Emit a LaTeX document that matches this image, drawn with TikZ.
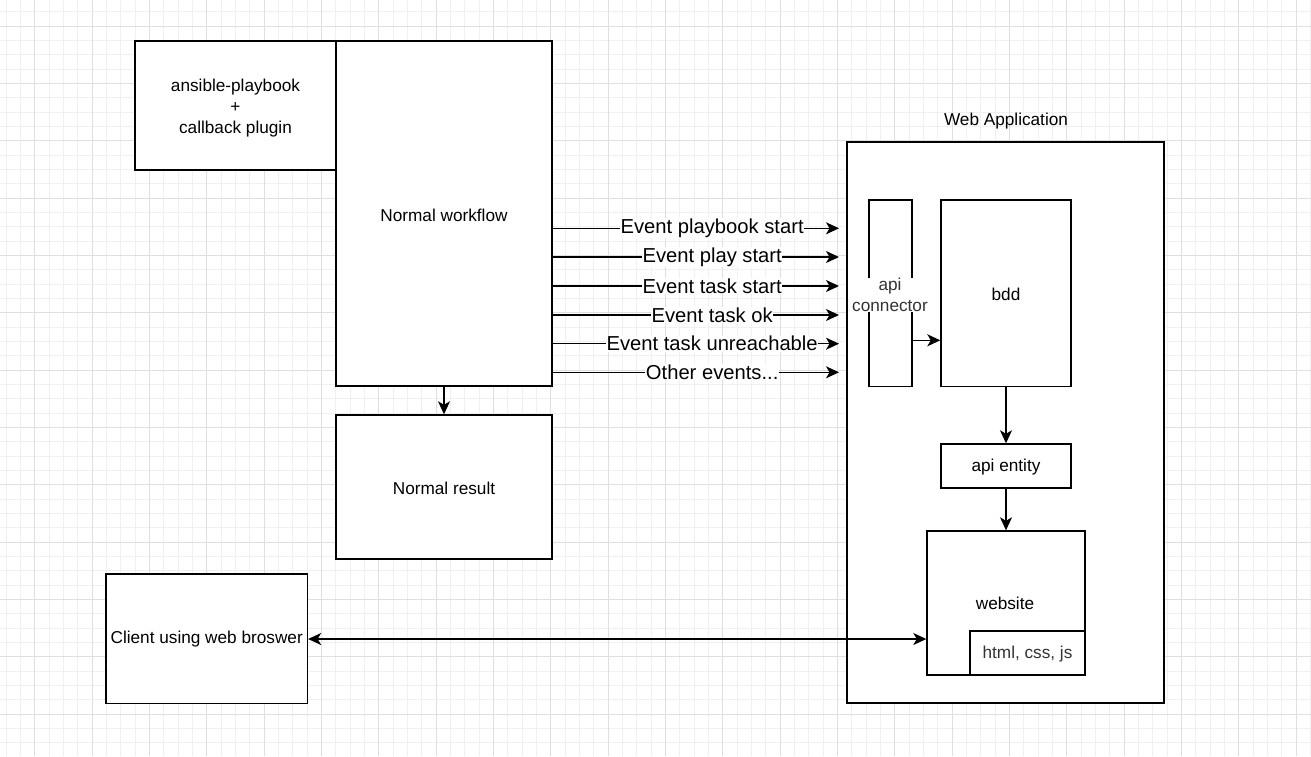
\documentclass[tikz,border=0pt]{standalone}
\usepackage{fontspec}
\setmainfont{Liberation Sans}
\usepackage{xcolor}
\usepackage{tikz}
\usetikzlibrary{positioning}
\usetikzlibrary{arrows.meta}
\definecolor{gridminor}{HTML}{F0F0F0}
\definecolor{gridmajor}{HTML}{DFDFDF}
\definecolor{softtext}{HTML}{333333}
\newcommand\pagew{1311}
\newcommand\pageh{756}

\begin{document}
\begin{tikzpicture}[x=1pt,y=-1pt,
  box/.style={draw,line width=1.4pt,fill=white,rectangle,inner sep=0pt,
    font=\fontsize{17.2}{21}\selectfont,align=center},
  plain/.style={inner sep=0pt,font=\fontsize{17.2}{21}\selectfont,align=center},
  evlabel/.style={fill=white,inner sep=0.5pt,font=\fontsize{20.2}{24}\selectfont},
  flow/.style={line width=1.4pt,-{Stealth[length=13pt,width=12pt,inset=3.5pt]}},
  both/.style={line width=1.4pt,{Stealth[length=13pt,width=12pt,inset=3.5pt]}-{Stealth[length=13pt,width=12pt,inset=3.5pt]}}]
\useasboundingbox[fill=white] (0,0) rectangle (\pagew,\pageh);

%grid
\foreach \i in {0,...,91}{%
\draw[gridminor,line width=0.8pt] ({6.04+14.333*\i},0) -- ({6.04+14.333*\i},\pageh);
}
\foreach \i in {0,...,52}{%
\draw[gridminor,line width=0.8pt] (0,{11.67+14.333*\i}) -- (\pagew,{11.67+14.333*\i});
}
\foreach \i in {0,...,22}{%
\draw[gridmajor,line width=0.8pt] ({34.7+57.333*\i},0) -- ({34.7+57.333*\i},\pageh);
}
\foreach \i in {0,...,13}{%
\draw[gridmajor,line width=0.8pt] (0,{26+57.333*\i}) -- (\pagew,{26+57.333*\i});
}

%left side
\node[box,minimum width=201pt,minimum height=129pt] (ansible) at (235.5,105.5) {};
\node[plain] (ansibletext) at (235.5,108) {ansible-playbook\\+\\callback plugin};
\node[box,minimum width=216pt,minimum height=345pt] (workflow) at (444,213.5) {};
\node[plain] (workflowtext) at (444,215) {Normal workflow};
\node[box,minimum width=216pt,minimum height=144pt] (result) at (444,487) {};
\node[plain] (resulttext) at (444,488.5) {Normal result};
\node[box,minimum width=201.5pt,minimum height=129.5pt] (client) at (206.7,638.8) {};
\node[plain] (clienttext) at (206.7,639.5) {Client using web broswer};

\draw[flow] (workflow.south) -- (result.north);

%web application
\node[box,minimum width=317pt,minimum height=561pt] (webapp) at (1005.5,422.5) {};
\node[plain] (webapptitle) at (1006,121) {Web Application};
\node[box,minimum width=43pt,minimum height=186.5pt] (apiconn) at (890.5,293.2) {};
\node[plain,fill=white,text=softtext] (apiconntext) at (890,295) {api\\connector};
\node[box,minimum width=130pt,minimum height=186.5pt] (bdd) at (1006,293.2) {};
\node[plain] (bddtext) at (1006,294.5) {bdd};
\node[box,minimum width=130pt,minimum height=44pt] (apientity) at (1006,466) {};
\node[plain] (apientitytext) at (1006,467.5) {api entity};
\node[box,minimum width=158pt,minimum height=144pt] (website) at (1006,603) {};
\node[plain] (websitetext) at (1005,603.5) {website};
\node[box,minimum width=115pt,minimum height=44pt] (html) at (1027.5,653) {};
\node[plain,text=softtext] (htmltext) at (1027.5,654.5) {html, css, js};

%events
\coordinate (ev1) at (839,228.3);
\coordinate (ev2) at (839,257);
\coordinate (ev3) at (839,286);
\coordinate (ev4) at (839,315);
\coordinate (ev5) at (839,343.7);
\coordinate (ev6) at (839,372.3);
\draw[flow] (workflow.east |- ev1) -- node[evlabel,pos=0.557] (lb1) {Event playbook start} (ev1);
\draw[flow] (workflow.east |- ev2) -- node[evlabel,pos=0.557] (lb2) {Event play start} (ev2);
\draw[flow] (workflow.east |- ev3) -- node[evlabel,pos=0.557] (lb3) {Event task start} (ev3);
\draw[flow] (workflow.east |- ev4) -- node[evlabel,pos=0.557] (lb4) {Event task ok} (ev4);
\draw[flow] (workflow.east |- ev5) -- node[evlabel,pos=0.557] (lb5) {Event task unreachable} (ev5);
\draw[flow] (workflow.east |- ev6) -- node[evlabel,pos=0.557] (lb6) {Other events...} (ev6);

\coordinate (conny) at (0,340.3);
\draw[flow] (apiconn.east |- conny) -- (bdd.west |- conny);
\draw[flow] (bdd.south) -- (apientity.north);
\draw[flow] (apientity.south) -- (website.north);
\coordinate (clienty) at (0,639);
\draw[both] (client.east |- clienty) -- (website.west |- clienty);

\end{tikzpicture}
\end{document}
